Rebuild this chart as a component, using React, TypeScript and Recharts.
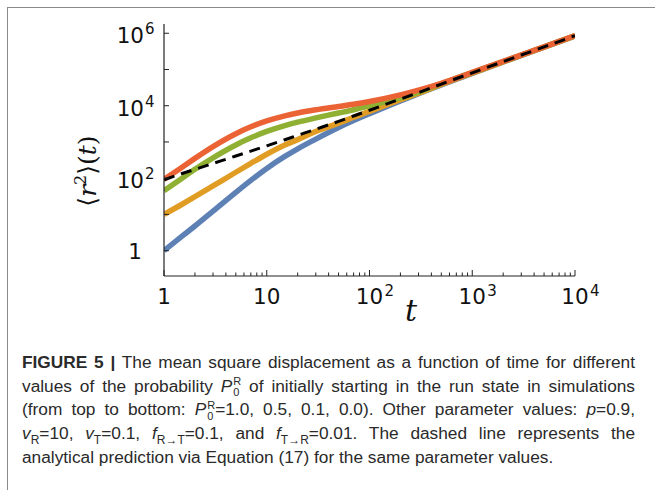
import React from "react";
import { LineChart, Line, XAxis, YAxis } from "recharts";

// time points and <r^2>(t), one array per P0^R value
const TIME = [1, 1.5, 2, 3, 5, 7, 10, 15, 20, 30, 50, 70, 100, 200, 300, 500, 1000, 2000, 5000, 10000];
const MSD_P00 = [1, 2.51, 4.79, 12.3, 40.7, 87.1, 186, 398, 646, 1200, 2510, 3890, 6030, 13650, 21400, 37600, 77600, 161000, 412000, 843000];
const MSD_P01 = [10, 19.1, 30.8, 61.2, 146, 256, 457, 822, 1160, 1950, 3300, 4800, 7000, 14600, 22100, 38500, 79500, 163000, 415000, 847000];
const MSD_P05 = [45, 100, 176, 366, 828, 1300, 1950, 2830, 3530, 4620, 6300, 7760, 10000, 16400, 23700, 40500, 82000, 166000, 421000, 858000];
const MSD_P10 = [93, 201, 353, 746, 1690, 2620, 3810, 5270, 6310, 7730, 9570, 11000, 13100, 19900, 26900, 41600, 83000, 167000, 422000, 862000];
const MSD_THEORY = [90, 135, 175, 255, 410, 560, 780, 1150, 1520, 2250, 3700, 5200, 7500, 15300, 23000, 39500, 81000, 165000, 420000, 855000];

const X_TICKS = [
  1, 2, 3, 4, 5, 6, 7, 8, 9,
  10, 20, 30, 40, 50, 60, 70, 80, 90,
  100, 200, 300, 400, 500, 600, 700, 800, 900,
  1000, 2000, 3000, 4000, 5000, 6000, 7000, 8000, 9000,
  10000,
];
const Y_TICKS = [1, 10, 100, 1000, 10000, 100000, 1000000];

const rows = TIME.map((t, i) => ({
  t,
  p00: MSD_P00[i],
  p01: MSD_P01[i],
  p05: MSD_P05[i],
  p10: MSD_P10[i],
  theory: MSD_THEORY[i],
}));

const AXIS = "#222";
const TICK_FONT = "'DejaVu Sans', sans-serif";

function decade(v: number) {
  const e = Math.round(Math.log10(v));
  return { e, major: Math.abs(Math.log10(v) - e) < 1e-6 };
}

const XTick = (props: any) => {
  const { x, y, payload } = props;
  const { e, major } = decade(payload.value);
  return (
    <g>
      <line x1={x} x2={x} y1={y} y2={y - (major ? 6 : 3.5)} stroke={AXIS} strokeWidth={1} />
      {major && e <= 1 && (
        <text x={x} y={y + 28} textAnchor="middle" fontSize={21.5} fontFamily={TICK_FONT} fill="#111">
          {e === 0 ? "1" : "10"}
        </text>
      )}
      {major && e > 1 && (
        <g>
          <text x={x} y={y + 28} textAnchor="middle" fontSize={21.5} fontFamily={TICK_FONT} fill="#111">10</text>
          <text x={x + 15} y={y + 20} fontSize={15} fontFamily={TICK_FONT} fill="#111">{e}</text>
        </g>
      )}
    </g>
  );
};

const YTick = (props: any) => {
  const { x, y, payload } = props;
  const { e } = decade(payload.value);
  const labelled = e % 2 === 0;
  return (
    <g>
      <line x1={x} x2={x + 5} y1={y} y2={y} stroke={AXIS} strokeWidth={1} />
      {labelled && e === 0 && (
        <text x={x - 22} y={y + 8} textAnchor="end" fontSize={21.5} fontFamily={TICK_FONT} fill="#111">1</text>
      )}
      {labelled && e > 0 && (
        <g>
          <text x={x - 20} y={y + 10} textAnchor="end" fontSize={21.5} fontFamily={TICK_FONT} fill="#111">10</text>
          <text x={x - 19} y={y + 1} fontSize={15} fontFamily={TICK_FONT} fill="#111">{e}</text>
        </g>
      )}
    </g>
  );
};

const sub = (s: string) => (
  <span style={{ fontSize: 12, position: "relative", top: 5, lineHeight: 0 }}>{s}</span>
);

const P0R = () => (
  <span style={{ whiteSpace: "nowrap" }}>
    <i>P</i>
    <span
      style={{
        display: "inline-flex",
        flexDirection: "column",
        verticalAlign: "middle",
        marginLeft: 1,
        fontSize: 11,
        lineHeight: "11px",
      }}
    >
      <span>R</span>
      <span>0</span>
    </span>
  </span>
);

const fullLine: React.CSSProperties = {
  width: 613,
  height: 23.7,
  textAlign: "justify",
  textAlignLast: "justify",
  whiteSpace: "nowrap",
};
const lastLine: React.CSSProperties = { height: 23.7, whiteSpace: "nowrap" };

export default function App() {
  return (
    <div style={{ position: "absolute", left: 0, top: 0, width: 655, height: 490, background: "#fff", overflow: "hidden" }}>
      <div style={{ position: "absolute", left: 7, top: 7, width: 660, height: 500, borderLeft: "1.5px solid #8a8a8a", borderTop: "1.5px solid #8a8a8a" }} />
      <div style={{ position: "absolute", left: 0, top: 0 }}>
        <LineChart width={655} height={330} data={rows} margin={{ top: 24, right: 80, bottom: 24, left: 104 }}>
          <XAxis
            dataKey="t"
            type="number"
            scale="log"
            domain={[1, 10000]}
            ticks={X_TICKS}
            interval={0}
            tick={XTick}
            tickLine={false}
            tickSize={0}
            tickMargin={0}
            height={30}
            axisLine={{ stroke: AXIS, strokeWidth: 1.2 }}
            allowDataOverflow
          />
          <YAxis
            type="number"
            scale="log"
            domain={[0.2, 1.8e6]}
            ticks={Y_TICKS}
            interval={0}
            tick={YTick}
            tickLine={false}
            tickSize={0}
            tickMargin={0}
            width={60}
            axisLine={{ stroke: AXIS, strokeWidth: 1.2 }}
            allowDataOverflow
          />
          <Line dataKey="p00" type="monotone" stroke="#5E81B5" strokeWidth={5.5} dot={false} isAnimationActive={false} />
          <Line dataKey="p01" type="monotone" stroke="#E19C24" strokeWidth={5.5} dot={false} isAnimationActive={false} />
          <Line dataKey="p05" type="monotone" stroke="#8FB032" strokeWidth={5.5} dot={false} isAnimationActive={false} />
          <Line dataKey="p10" type="monotone" stroke="#EB6235" strokeWidth={5.5} dot={false} isAnimationActive={false} />
          <Line dataKey="theory" type="monotone" stroke="#000" strokeWidth={3} strokeDasharray="11 7" dot={false} isAnimationActive={false} />
        </LineChart>
      </div>
      <svg width={655} height={340} style={{ position: "absolute", left: 0, top: 0, pointerEvents: "none" }}>
        <text
          x={96}
          y={171}
          transform="rotate(-90 96 171)"
          textAnchor="middle"
          fontSize={25}
          fontFamily="'DejaVu Serif', serif"
          fill="#111"
        >
          ⟨<tspan fontStyle="italic">r</tspan>
          <tspan fontSize={16} dy={-10}>2</tspan>
          <tspan dy={10}>⟩(</tspan>
          <tspan fontStyle="italic">t</tspan>)
        </text>
        <text x={411} y={321} textAnchor="middle" fontSize={30} fontStyle="italic" fontFamily="'DejaVu Serif', serif" fill="#111">
          t
        </text>
      </svg>
      <div
        style={{
          position: "absolute",
          left: 22,
          top: 351,
          fontFamily: "'Liberation Sans', Arial, sans-serif",
          fontSize: 17.3,
          lineHeight: "23.7px",
          color: "#2a2a2a",
        }}
      >
        <div style={fullLine}>
          <b>FIGURE 5 |</b> The mean square displacement as a function of time for different
        </div>
        <div style={fullLine}>
          values of the probability <P0R /> of initially starting in the run state in simulations
        </div>
        <div style={fullLine}>
          (from top to bottom: <P0R />=1.0, 0.5, 0.1, 0.0). Other parameter values: <i>p</i>=0.9,
        </div>
        <div style={fullLine}>
          <i>v</i>{sub("R")}=10, <i>v</i>{sub("T")}=0.1, <i>f</i>{sub("R→T")}=0.1, and <i>f</i>{sub("T→R")}=0.01. The dashed line represents the
        </div>
        <div style={lastLine}>analytical prediction via Equation (17) for the same parameter values.</div>
      </div>
    </div>
  );
}
